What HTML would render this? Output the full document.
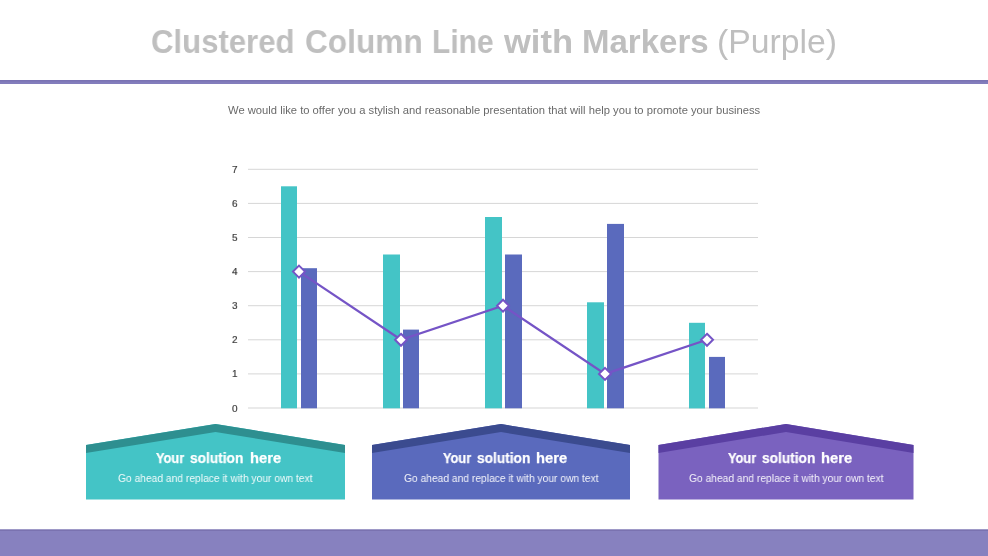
<!DOCTYPE html>
<html><head><meta charset="utf-8">
<style>
html,body{margin:0;padding:0;background:#fff;}
body{width:988px;height:556px;position:relative;overflow:hidden;font-family:"Liberation Sans",sans-serif;}
.t{position:absolute;white-space:nowrap;line-height:1;transform-origin:0 0;will-change:transform;}
.tw{top:25px;font-size:33px;color:#bfbfbf;font-weight:bold;}
#sub{left:227.6px;top:105px;font-size:11px;color:#6a6a6a;transform:scaleX(1.02);}
.ax{position:absolute;will-change:transform;font-size:10px;color:#333;-webkit-text-stroke:0.15px #333;line-height:1;transform:scaleY(0.89);transform-origin:0 8.5px;}
.hd{position:absolute;top:450.5px;height:16px;width:130px;}
.hd span{position:absolute;will-change:transform;top:0;white-space:nowrap;line-height:1;transform-origin:0 0;font-weight:bold;font-size:14px;color:#fff;-webkit-text-stroke:0.25px #fff;}
.bs{top:473px;font-size:11px;color:rgba(255,255,255,0.93);transform:scaleX(0.933);}
</style></head><body>
<svg width="988" height="556" style="position:absolute;left:0;top:0">
  <rect x="0" y="80" width="988" height="4" fill="#837dbc"/>
  <rect x="0" y="80" width="988" height="1.5" fill="#7a73b3"/>
  <rect x="0" y="529.5" width="988" height="26.5" fill="#8781bf"/>
  <rect x="0" y="529.5" width="988" height="1.5" fill="#7a72b0"/>
  <g>
    <rect x="248" y="407.5" width="510" height="1" fill="#d6d6d6"/>
    <rect x="248" y="373.4" width="510" height="1" fill="#d6d6d6"/>
    <rect x="248" y="339.3" width="510" height="1" fill="#d6d6d6"/>
    <rect x="248" y="305.2" width="510" height="1" fill="#d6d6d6"/>
    <rect x="248" y="271.1" width="510" height="1" fill="#d6d6d6"/>
    <rect x="248" y="237.0" width="510" height="1" fill="#d6d6d6"/>
    <rect x="248" y="202.89999999999998" width="510" height="1" fill="#d6d6d6"/>
    <rect x="248" y="168.79999999999998" width="510" height="1" fill="#d6d6d6"/>
  </g>
  <g>
    <rect x="281" y="186.3" width="16" height="222.0" fill="#44c4c6"/>
    <rect x="383" y="254.5" width="17" height="153.8" fill="#44c4c6"/>
    <rect x="485" y="217.0" width="17" height="191.3" fill="#44c4c6"/>
    <rect x="587" y="302.3" width="17" height="106.0" fill="#44c4c6"/>
    <rect x="689" y="322.8" width="16" height="85.6" fill="#44c4c6"/>
    <rect x="301" y="268.2" width="16" height="140.1" fill="#5a6abd"/>
    <rect x="403" y="329.6" width="16" height="78.7" fill="#5a6abd"/>
    <rect x="505" y="254.5" width="17" height="153.8" fill="#5a6abd"/>
    <rect x="607" y="223.9" width="17" height="184.4" fill="#5a6abd"/>
    <rect x="709" y="356.9" width="16" height="51.4" fill="#5a6abd"/>
  </g>
  <polyline points="299,271.6 401,339.8 503,305.7 605,373.9 707,339.8" fill="none" stroke="#7554c6" stroke-width="2.25"/>
  <g fill="#fff" stroke="#7554c6" stroke-width="2">
    <path d="M299,265.6 L305,271.6 L299,277.6 L293,271.6 Z"/>
    <path d="M401,333.8 L407,339.8 L401,345.8 L395,339.8 Z"/>
    <path d="M503,299.7 L509,305.7 L503,311.7 L497,305.7 Z"/>
    <path d="M605,367.9 L611,373.9 L605,379.9 L599,373.9 Z"/>
    <path d="M707,333.8 L713,339.8 L707,345.8 L701,339.8 Z"/>
  </g>
  <path d="M86,445 L215.5,424 L345,445 L345,499.5 L86,499.5 Z" fill="#44c4c6"/>
  <path d="M86,445 L215.5,424 L345,445 L345,453 L215.5,432 L86,453 Z" fill="#2e8f90"/>
  <path d="M372,445 L501.0,424 L630,445 L630,499.5 L372,499.5 Z" fill="#5a6abd"/>
  <path d="M372,445 L501.0,424 L630,445 L630,453 L501.0,432 L372,453 Z" fill="#3b4b8f"/>
  <path d="M658.5,445 L786.0,424 L913.5,445 L913.5,499.5 L658.5,499.5 Z" fill="#7a62bf"/>
  <path d="M658.5,445 L786.0,424 L913.5,445 L913.5,453 L786.0,432 L658.5,453 Z" fill="#5a3fa2"/>
</svg>
<div class="t tw" style="left:151px;transform:scaleX(0.943);">Clustered</div>
<div class="t tw" style="left:305px;transform:scaleX(0.958);">Column</div>
<div class="t tw" style="left:432.2px;transform:scaleX(0.908);">Line</div>
<div class="t tw" style="left:504px;transform:scaleX(1.047);">with</div>
<div class="t tw" style="left:582px;transform:scaleX(1.0);">Markers</div>
<div class="t tw" style="left:716.5px;transform:scaleX(1.022);font-weight:normal;">(Purple)</div>
<div class="t" id="sub">We would like to offer you a stylish and reasonable presentation that will help you to promote your business</div>
<div class="ax" style="left:232px;top:164.8px">7</div>
<div class="ax" style="left:232px;top:198.9px">6</div>
<div class="ax" style="left:232px;top:233.0px">5</div>
<div class="ax" style="left:232px;top:267.1px">4</div>
<div class="ax" style="left:232px;top:301.2px">3</div>
<div class="ax" style="left:232px;top:335.3px">2</div>
<div class="ax" style="left:232px;top:369.4px">1</div>
<div class="ax" style="left:232px;top:403.5px">0</div>
<div class="hd" style="left:156.4px"><span style="left:0;transform:scaleX(0.913)">Your</span><span style="left:33.7px;transform:scaleX(0.979)">solution</span><span style="left:93.35px;transform:scaleX(1.05)">here</span></div>
<div class="t bs" style="left:118.0px">Go ahead and replace it with your own text</div>
<div class="hd" style="left:443.0px"><span style="left:0;transform:scaleX(0.913)">Your</span><span style="left:33.7px;transform:scaleX(0.979)">solution</span><span style="left:93.35px;transform:scaleX(1.05)">here</span></div>
<div class="t bs" style="left:403.5px">Go ahead and replace it with your own text</div>
<div class="hd" style="left:728.0px"><span style="left:0;transform:scaleX(0.913)">Your</span><span style="left:33.7px;transform:scaleX(0.979)">solution</span><span style="left:93.35px;transform:scaleX(1.05)">here</span></div>
<div class="t bs" style="left:688.5px">Go ahead and replace it with your own text</div>
</body></html>
